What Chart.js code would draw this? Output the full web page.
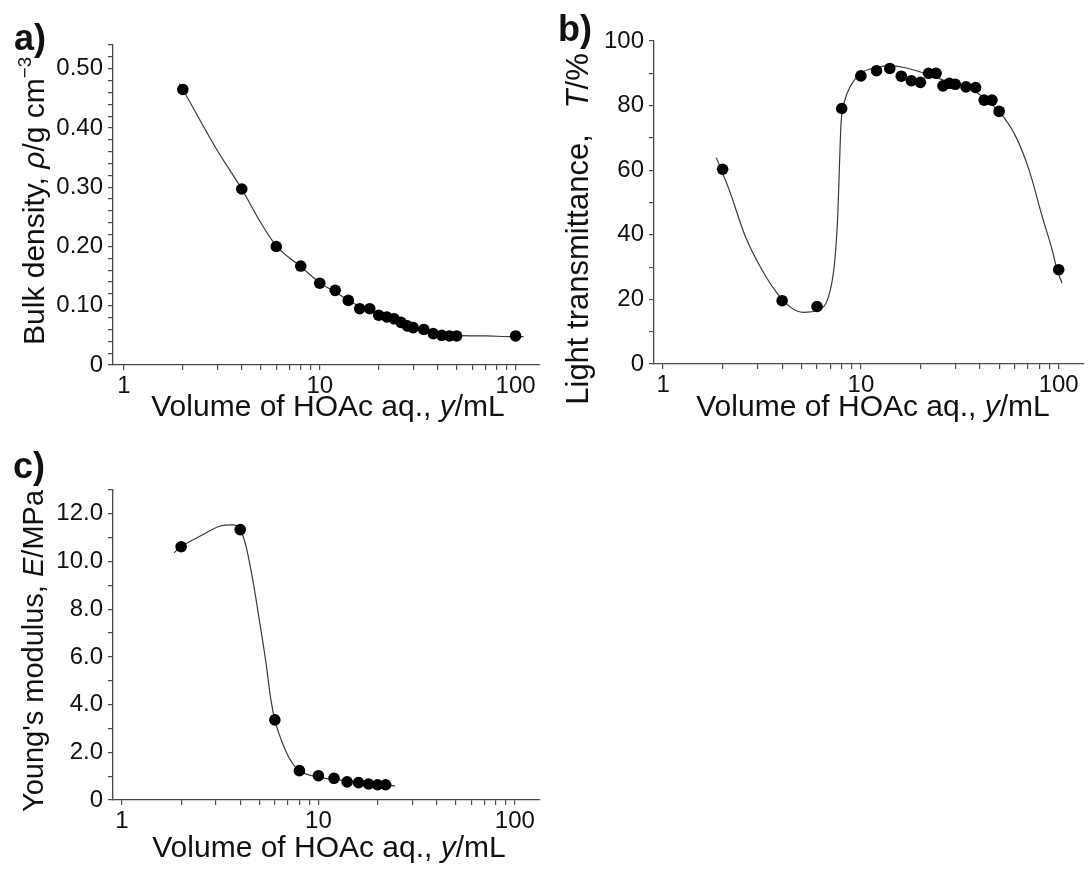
<!DOCTYPE html>
<html lang="en">
<head>
<meta charset="UTF-8">
<title>HOAc volume series</title>
<script src="https://cdn.jsdelivr.net/npm/chart.js"></script>
<style>
    body {
        margin: 0;
        background: #fff;
        width: 1089px;
        height: 873px;
        position: relative;
        overflow: hidden;
        font-family: "Liberation Sans", Arial, sans-serif;
        color: #111;
    }
    canvas { position: absolute; }
    .lbl {
        position: absolute;
        transform: translate(-50%, -50%);
        white-space: nowrap;
        font-size: 30px;
        line-height: 1;
    }
    .rot { transform: translate(-50%, -50%) rotate(-90deg); }
    .tag {
        position: absolute;
        transform: translate(-50%, -50%);
        font-weight: bold;
        font-size: 36px;
        line-height: 1;
    }
    sup { font-size: 0.62em; vertical-align: 0.7em; line-height: 0; }
</style>
</head>
<body>
    <canvas id="pa" width="545" height="440" style="left:0;top:0"></canvas>
    <canvas id="pb" width="544" height="440" style="left:545px;top:0"></canvas>
    <canvas id="pc" width="545" height="433" style="left:0;top:440px"></canvas>

    <div class="tag" style="left:30px;top:38px">a)</div>
    <div class="lbl rot" style="left:34px;top:201px;font-size:30px">Bulk density, <i>&rho;</i>/g cm<sup>&minus;3</sup></div>
    <div class="lbl" style="left:328px;top:406px">Volume of HOAc aq., <i>y</i>/mL</div>

    <div class="tag" style="left:575px;top:29px">b)</div>
    <div class="lbl rot" style="left:577px;top:229px;font-size:31px">Light transmittance,&nbsp;&nbsp; <i>T</i>/%</div>
    <div class="lbl" style="left:873px;top:406px">Volume of HOAc aq., <i>y</i>/mL</div>

    <div class="tag" style="left:29px;top:466px">c)</div>
    <div class="lbl rot" style="left:33px;top:651px;font-size:29px">Young's modulus, <i>E</i>/MPa</div>
    <div class="lbl" style="left:329px;top:847px">Volume of HOAc aq., <i>y</i>/mL</div>

<script>
// values, x = volume of HOAc aq. in mL
const volAB = [2, 4, 6, 8, 10, 12, 14, 16, 18, 20, 22, 24, 26, 28, 30, 34, 38, 42, 46, 50, 100];
const density = [0.465, 0.297, 0.200, 0.167, 0.138, 0.126, 0.109, 0.095, 0.095, 0.084, 0.081,
                 0.078, 0.072, 0.066, 0.063, 0.060, 0.053, 0.050, 0.049, 0.049, 0.049];
const transmittance = [60.3, 19.6, 17.8, 79.1, 89.2, 90.8, 91.5, 89.1, 87.7, 87.2, 90.0,
                       90.0, 86.1, 86.9, 86.6, 85.8, 85.6, 81.7, 81.7, 78.2, 29.2];
const volC = [2, 4, 6, 8, 10, 12, 14, 16, 18, 20, 22];
const modulus = [10.62, 11.34, 3.36, 1.23, 1.02, 0.91, 0.76, 0.73, 0.67, 0.64, 0.64];

// fitted curves
const fitVolA = [1.92, 2, 3, 4, 5, 6, 8, 10, 12, 14, 16, 20, 25, 30, 40, 50, 70, 100, 110];
const fitDensity = [0.475, 0.465, 0.362, 0.297, 0.240, 0.201, 0.166, 0.139, 0.123, 0.109, 0.099,
                    0.085, 0.072, 0.063, 0.054, 0.050, 0.049, 0.048, 0.048];
const fitVolB = [1.86, 2.16, 2.61, 3.16, 3.83, 4.47, 5.11, 6.07, 6.82, 7.36, 7.65, 7.8, 7.94, 8.26,
                 8.91, 9.97, 12, 14, 16.5, 20.7, 26.1, 34.2, 41.4, 50.1, 60.7, 70.8, 82.6, 92.7, 98.2, 104];
const fitT = [63.9, 53.9, 39.4, 29.2, 21.4, 17.3, 16.0, 16.8, 20.4, 31.2, 46.7, 62.1, 74.5, 81.2,
              86.3, 90.0, 91.8, 92.4, 91.8, 90.1, 87.9, 85.8, 82.7, 78.1, 70.4, 60.1, 45.6, 35.3, 29.1, 25.0];
const fitVolC = [1.84, 2, 2.49, 3.14, 3.67, 4, 4.28, 4.63, 5.0, 5.41, 5.73, 6, 6.56, 7.37, 8, 9.68, 12.7, 17.3, 24.6];
const fitE = [10.37, 10.62, 11.06, 11.48, 11.54, 11.34, 10.64, 9.24, 7.56, 5.74, 4.2, 3.36, 2.38,
              1.54, 1.23, 0.98, 0.84, 0.70, 0.59];

const xTickVals = [1, 2, 3, 4, 5, 6, 7, 8, 9, 10, 20, 30, 40, 50, 60, 70, 80, 90, 100];
const xLabels = [1, 10, 100];

const FONT = '"Liberation Sans", Arial, sans-serif';
const AXIS = '#4a4a4a';

function pts(xs, ys) {
    return xs.map((x, i) => ({ x: x, y: ys[i] }));
}

function panel(id, cfg) {
    new Chart(document.getElementById(id), {
        type: 'scatter',
        data: {
            datasets: [
                {
                    data: pts(cfg.fx, cfg.fy),
                    showLine: true,
                    borderColor: '#3a3a3a',
                    borderWidth: 1.2,
                    pointRadius: 0,
                    cubicInterpolationMode: 'monotone',
                    order: 2
                },
                {
                    data: pts(cfg.x, cfg.y),
                    pointRadius: 5.8,
                    backgroundColor: '#000',
                    borderWidth: 0,
                    order: 1
                }
            ]
        },
        options: {
            responsive: false,
            animation: false,
            events: [],
            layout: { padding: { top: cfg.top, right: cfg.right, left: 0, bottom: 0 } },
            plugins: { legend: { display: false }, tooltip: { enabled: false } },
            scales: {
                x: {
                    type: 'logarithmic',
                    min: cfg.xmin,
                    max: cfg.xmax,
                    afterBuildTicks: s => { s.ticks = xTickVals.map(v => ({ value: v })); },
                    afterFit: s => { s.height = cfg.xh; },
                    grid: { drawOnChartArea: false, tickLength: 5, color: AXIS, lineWidth: 1.2 },
                    border: { color: AXIS, width: 1.3 },
                    ticks: {
                        autoSkip: false, maxRotation: 0, minRotation: 0, padding: 2,
                        color: '#111', font: { size: 24, family: FONT },
                        callback: v => xLabels.includes(v) ? String(v) : ''
                    }
                },
                y: {
                    min: 0,
                    max: cfg.ymax,
                    afterFit: s => { s.width = cfg.yw; },
                    grid: { drawOnChartArea: false, tickLength: 5, color: AXIS, lineWidth: 1.2 },
                    border: { color: AXIS, width: 1.3 },
                    ticks: {
                        stepSize: cfg.minor, autoSkip: false, padding: 5,
                        color: '#111', font: { size: 24, family: FONT },
                        callback: v => {
                            const r = v / cfg.major;
                            if (Math.abs(r - Math.round(r)) > 1e-6) return '';
                            return Math.abs(v) < 1e-9 ? '0' : v.toFixed(cfg.dec);
                        }
                    }
                }
            }
        }
    });
}

panel('pa', { x: volAB, y: density, fx: fitVolA, fy: fitDensity,
    xmin: 0.88, xmax: 132, ymax: 0.54, minor: 0.02, major: 0.1, dec: 2,
    top: 45, right: 3, yw: 113, xh: 75 });

panel('pb', { x: volAB, y: transmittance, fx: fitVolB, fy: fitT,
    xmin: 0.9, xmax: 133, ymax: 100, minor: 10, major: 20, dec: 0,
    top: 41, right: 0, yw: 109, xh: 76 });

panel('pc', { x: volC, y: modulus, fx: fitVolC, fy: fitE,
    xmin: 0.9, xmax: 133, ymax: 13, minor: 1, major: 2, dec: 1,
    top: 50, right: 3, yw: 113, xh: 73 });
</script>
</body>
</html>
